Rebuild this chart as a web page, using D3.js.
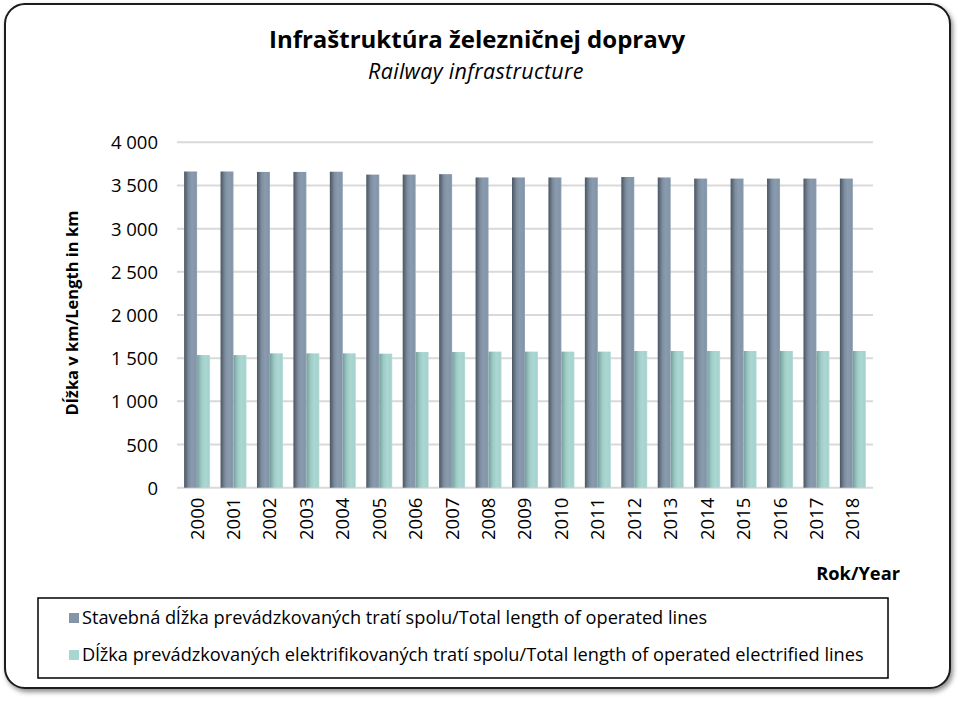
<!DOCTYPE html>
<html><head><meta charset="utf-8">
<script src="https://cdn.jsdelivr.net/npm/d3@7"></script>
<style>body{margin:0;background:#fff}svg{display:block}</style>
</head><body>
<svg id="c" width="962" height="701"></svg>
<script>
const years = ["2000","2001","2002","2003","2004","2005","2006","2007","2008","2009","2010","2011","2012","2013","2014","2015","2016","2017","2018"];
const totalLines = [3662,3662,3657,3657,3659,3626,3626,3631,3593,3593,3593,3593,3598,3593,3580,3580,3580,3580,3580];
const electrifiedLines = [1536,1536,1556,1556,1556,1552,1571,1571,1576,1576,1576,1576,1583,1583,1583,1583,1583,1583,1583];
const yTicks = [0,500,1000,1500,2000,2500,3000,3500,4000];
const seriesNames = ["Stavebná dĺžka prevádzkovaných tratí spolu/Total length of operated lines",
  "Dĺžka prevádzkovaných elektrifikovaných tratí spolu/Total length of operated electrified lines"];
const seriesColors = ["#8595a8","#a8d6d1"];

const FONT = "'Open Sans', sans-serif";
const svg = d3.select("#c");
const defs = svg.append("defs");
const f = defs.append("filter").attr("id","sh").attr("x","-5%").attr("y","-5%").attr("width","110%").attr("height","110%");
f.append("feDropShadow").attr("dx",2).attr("dy",3).attr("stdDeviation",2.5).attr("flood-color","#000").attr("flood-opacity",0.45);

function grad(id, stops){
  const g = defs.append("linearGradient").attr("id",id).attr("x1","0").attr("x2","1").attr("y1","0").attr("y2","0");
  stops.forEach(s=>g.append("stop").attr("offset",s[0]).attr("stop-color",s[1]));
}
grad("g0",[[0,"#4b5663"],[0.15,"#5f6c7a"],[0.35,"#7d8d9f"],[0.6,"#8a9bae"],[0.9,"#8395a8"],[1,"#9aa9b8"]]);
grad("g1",[[0,"#749e9a"],[0.15,"#88b3ae"],[0.35,"#a0ccc7"],[0.6,"#aad7d2"],[0.9,"#a5d2cd"],[1,"#bfe0dc"]]);

svg.append("rect").attr("x",5).attr("y",4).attr("width",945).attr("height",684).attr("rx",20)
  .attr("fill","#fff").attr("stroke","#1a1a1a").attr("stroke-width",2).attr("filter","url(#sh)");

svg.append("text").attr("x",477).attr("y",48).attr("text-anchor","middle")
  .attr("font-family",FONT).attr("font-weight","bold").attr("font-size",24).attr("fill","#000")
  .text("Infraštruktúra železničnej dopravy");
svg.append("text").attr("x",476).attr("y",79).attr("text-anchor","middle")
  .attr("font-family",FONT).attr("font-style","italic").attr("font-size",21.5).attr("letter-spacing",0.3).attr("fill","#000")
  .text("Railway infrastructure");

const pLeft=177, pRight=873, pTop=142.3, pBottom=487.7;
const y = d3.scaleLinear().domain([0,4000]).range([pBottom,pTop]);
const x = d3.scaleBand().domain(years).range([pLeft,pRight]).paddingInner(0.2865).paddingOuter(0.195);
const bw = x.bandwidth()/2;

const g = svg.append("g");
g.selectAll("line.grid").data(yTicks).join("line").attr("class","grid")
  .attr("x1",pLeft).attr("x2",pRight).attr("y1",d=>y(d)).attr("y2",d=>y(d))
  .attr("stroke","#d9d9d9").attr("stroke-width",2);

const yAxis = d3.axisLeft(y).tickValues(yTicks).tickSize(0).tickPadding(0)
  .tickFormat(d=>d3.format(",")(d).replace(/,/g," "));
const ya = svg.append("g").attr("transform",`translate(${pLeft-19},0)`).call(yAxis);
ya.select(".domain").remove();
ya.selectAll("text").attr("font-family",FONT).attr("font-size",18.5).attr("fill","#000").attr("dy","0.35em");

const xAxis = d3.axisBottom(x).tickSize(0).tickPadding(0);
const xa = svg.append("g").attr("transform",`translate(0,${pBottom})`).call(xAxis);
xa.select(".domain").remove();
xa.selectAll(".tick text").attr("font-family",FONT).attr("font-size",18.5).attr("fill","#000")
  .attr("transform","rotate(-90)").attr("text-anchor","end").attr("x",-10).attr("y",0).attr("dy","0.35em");

const series = [totalLines, electrifiedLines];
series.forEach((vals,si)=>{
  g.selectAll("rect.s"+si).data(years).join("rect").attr("class","s"+si)
    .attr("x",d=>x(d)+si*bw).attr("width",bw)
    .attr("y",(d,i)=>y(vals[i])).attr("height",(d,i)=>pBottom-y(vals[i]))
    .attr("fill",`url(#g${si})`);
});

svg.append("text").attr("transform",`translate(78,${(pTop+pBottom)/2 - 2}) rotate(-90)`).attr("text-anchor","middle")
  .attr("font-family",FONT).attr("font-weight","bold").attr("font-size",16.5).attr("fill","#000")
  .text("Dĺžka v km/Length in km");
svg.append("text").attr("x",900).attr("y",580).attr("text-anchor","end")
  .attr("font-family",FONT).attr("font-weight","bold").attr("font-size",18.3).attr("fill","#000")
  .text("Rok/Year");

const lg = svg.append("g");
lg.append("rect").attr("x",38).attr("y",598).attr("width",850).attr("height",80)
  .attr("fill","#fff").attr("stroke","#000").attr("stroke-width",1.5);
seriesNames.forEach((n,i)=>{
  const yy = 618 + i*37;
  lg.append("rect").attr("x",69).attr("y",yy-5).attr("width",10).attr("height",10).attr("fill",seriesColors[i]);
  lg.append("text").attr("x",82).attr("y",yy).attr("dy","0.35em").attr("font-family",FONT)
    .attr("font-size",18.2).attr("fill","#000").text(n);
});
</script>
</body></html>
